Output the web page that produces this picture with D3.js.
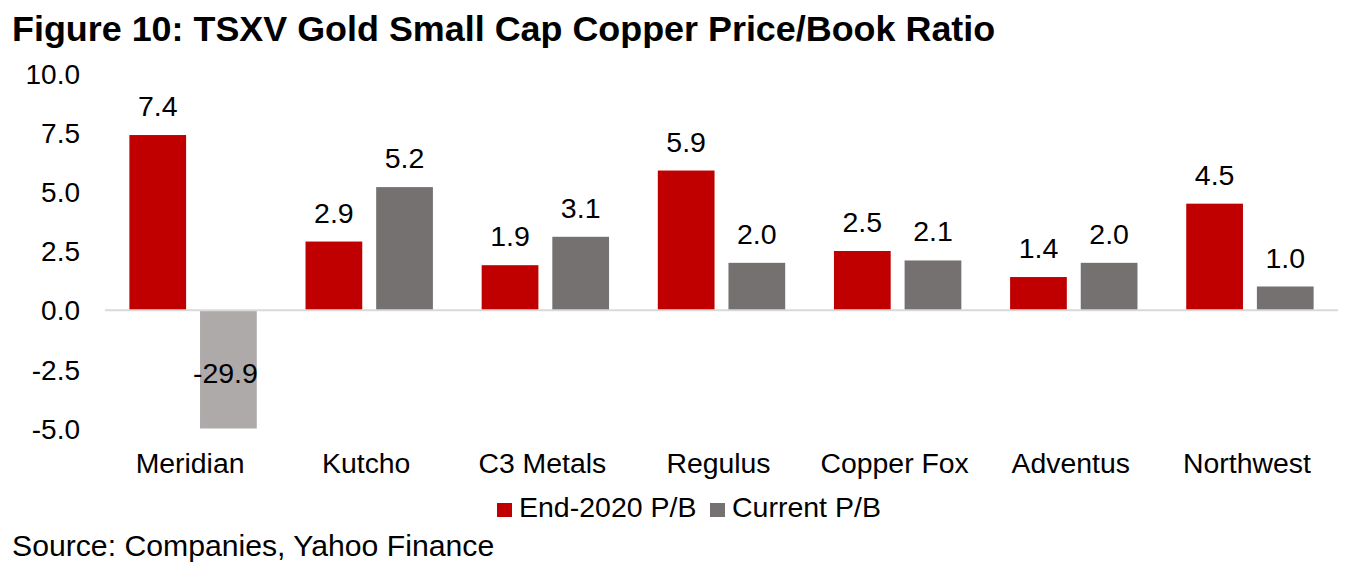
<!DOCTYPE html>
<html>
<head>
<meta charset="utf-8">
<script src="https://cdn.jsdelivr.net/npm/d3@7"></script>
<style>
  html, body { margin: 0; padding: 0; background: #ffffff; }
  svg { display: block; }
  text { font-family: "Liberation Sans", Arial, sans-serif; fill: #000; }
</style>
</head>
<body>
<svg id="chart" width="1366" height="580"></svg>
<script>
const categories = ["Meridian", "Kutcho", "C3 Metals", "Regulus", "Copper Fox", "Adventus", "Northwest"];
const seriesNames = ["End-2020 P/B", "Current P/B"];
const end2020 = [7.4, 2.9, 1.9, 5.9, 2.5, 1.4, 4.5];
const current = [-29.9, 5.2, 3.1, 2.0, 2.1, 2.0, 1.0];
const yTicks = [10.0, 7.5, 5.0, 2.5, 0.0, -2.5, -5.0];
const title = "Figure 10: TSXV Gold Small Cap Copper Price/Book Ratio";
const source = "Source: Companies, Yahoo Finance";

const colors = {"End-2020 P/B": "#c00000", "Current P/B": "#767171"};
const clippedColor = "#aeaaaa";

const fmt = d3.formatLocale({decimal: ".", thousands: ",", grouping: [3], currency: ["$", ""], minus: "-"}).format(".1f");

const svg = d3.select("#chart");
const left = 105, right = 1338;
const y = d3.scaleLinear().domain([-5, 10]).range([428.5, 73.5]);
const x0 = d3.scaleBand().domain(categories).range([left, right]).padding(0);
const x1 = d3.scaleBand().domain(seriesNames).range([0, x0.bandwidth()])
  .paddingInner(0.197).paddingOuter(0.345);

// title
svg.append("text").attr("x", 12).attr("y", 41)
  .style("font-size", "35.9px").style("font-weight", "bold").text(title);

// y axis labels
const yAxis = d3.axisLeft(y).tickValues(yTicks).tickFormat(fmt).tickSize(0).tickPadding(0);
const ga = svg.append("g").attr("transform", "translate(80,0)").call(yAxis);
ga.select(".domain").remove();
ga.selectAll("text").style("font-size", "28px").style("font-family", "'Liberation Sans', Arial, sans-serif")
  .attr("fill", "#000").attr("dy", "0.35em");

// data rows
const rows = categories.map((c, i) => ({cat: c, vals: [
  {s: seriesNames[0], v: end2020[i]}, {s: seriesNames[1], v: current[i]}]}));

const [yMin] = y.domain();
const groups = svg.append("g").selectAll("g").data(rows).join("g")
  .attr("transform", d => `translate(${x0(d.cat)},0)`);

groups.selectAll("rect").data(d => d.vals).join("rect")
  .attr("x", d => x1(d.s))
  .attr("width", x1.bandwidth())
  .attr("y", d => d.v >= 0 ? y(d.v) : y(0))
  .attr("height", d => d.v >= 0 ? y(0) - y(d.v) : y(Math.max(d.v, yMin)) - y(0))
  .attr("fill", d => d.v < yMin ? clippedColor : colors[d.s]);

groups.selectAll("text.lbl").data(d => d.vals).join("text")
  .attr("class", "lbl")
  .attr("x", d => x1(d.s) + x1.bandwidth() / 2 - (d.v < 0 ? 3 : 0))
  .attr("y", d => d.v >= 0 ? y(d.v) - 19 : (y(0) + y(Math.max(d.v, yMin))) / 2 + 14)
  .attr("text-anchor", "middle")
  .style("font-size", "28.5px")
  .text(d => fmt(d.v));

// zero line
svg.append("line").attr("x1", left).attr("x2", right)
  .attr("y1", y(0)).attr("y2", y(0))
  .attr("stroke", "#d9d9d9").attr("stroke-width", 2);

// x labels
svg.append("g").selectAll("text").data(categories).join("text")
  .attr("x", d => x0(d) + x0.bandwidth() / 2 - 3)
  .attr("y", 473)
  .attr("text-anchor", "middle")
  .style("font-size", "28.4px")
  .text(d => d);

// legend
const legendItems = [{s: seriesNames[0], x: 497}, {s: seriesNames[1], x: 710}];
const lg = svg.append("g");
legendItems.forEach(it => {
  lg.append("rect").attr("x", it.x).attr("y", 503).attr("width", 15).attr("height", 14)
    .attr("fill", colors[it.s]);
  lg.append("text").attr("x", it.x + 22).attr("y", 517)
    .style("font-size", "28.5px").text(it.s);
});

// source
svg.append("text").attr("x", 12).attr("y", 556)
  .style("font-size", "30.2px").text(source);
</script>
</body>
</html>
